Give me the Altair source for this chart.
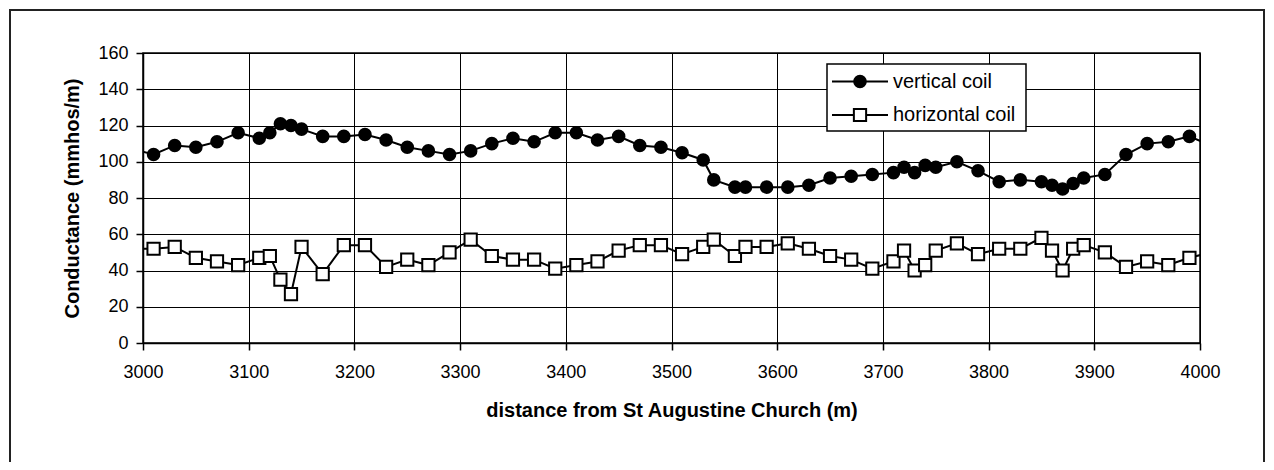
import altair as alt
import pandas as pd

# ---- data ----
distance = [2990, 3010, 3030, 3050, 3070, 3090, 3110, 3120, 3130, 3140, 3150, 3170, 3190,
            3210, 3230, 3250, 3270, 3290, 3310, 3330, 3350, 3370, 3390, 3410, 3430, 3450,
            3470, 3490, 3510, 3530, 3540, 3560, 3570, 3590, 3610, 3630, 3650, 3670, 3690,
            3710, 3720, 3730, 3740, 3750, 3770, 3790, 3810, 3830, 3850, 3860, 3870, 3880,
            3890, 3910, 3930, 3950, 3970, 3990, 4010]
vertical_coil = [107, 104, 109, 108, 111, 116, 113, 116, 121, 120, 118, 114, 114,
                 115, 112, 108, 106, 104, 106, 110, 113, 111, 116, 116, 112, 114,
                 109, 108, 105, 101, 90, 86, 86, 86, 86, 87, 91, 92, 93,
                 94, 97, 94, 98, 97, 100, 95, 89, 90, 89, 87, 85, 88,
                 91, 93, 104, 110, 111, 114, 109]
horizontal_coil = [52, 52, 53, 47, 45, 43, 47, 48, 35, 27, 53, 38, 54,
                   54, 42, 46, 43, 50, 57, 48, 46, 46, 41, 43, 45, 51,
                   54, 54, 49, 53, 57, 48, 53, 53, 55, 52, 48, 46, 41,
                   45, 51, 40, 43, 51, 55, 49, 52, 52, 58, 51, 40, 52,
                   54, 50, 42, 45, 43, 47, 50]
x_ticks = list(range(3000, 4001, 100))
y_ticks = list(range(0, 161, 20))
legend_labels = ["vertical coil", "horizontal coil"]

df_v = pd.DataFrame({"distance": distance, "value": vertical_coil})
df_h = pd.DataFrame({"distance": distance, "value": horizontal_coil})

FONT = "Liberation Sans"
W, H = 1057, 290

x_enc = alt.X("distance:Q",
              scale=alt.Scale(domain=[3000, 4000], nice=False, zero=False),
              axis=alt.Axis(values=x_ticks, format="d",
                            title="distance from St Augustine Church (m)",
                            titleX=W / 2, titleY=67, titleBaseline="middle",
                            labelAlign="center", labelFlush=False,
                            labelPadding=13, tickSize=7))
y_enc = alt.Y("value:Q",
              scale=alt.Scale(domain=[0, 160], nice=False),
              axis=alt.Axis(values=y_ticks, title="Conductance (mmhos/m)",
                            titleX=-71, titleY=H / 2, titleAngle=270,
                            titleAlign="center", titleBaseline="middle",
                            labelPadding=8, tickSize=7))

v_line = alt.Chart(df_v).mark_line(color="black", strokeWidth=2, clip=True).encode(x=x_enc, y=y_enc)
v_pts = alt.Chart(df_v).mark_point(shape="circle", filled=True, color="black",
                                   size=185, opacity=1, clip=True).encode(x=x_enc, y=y_enc)
h_line = alt.Chart(df_h).mark_line(color="black", strokeWidth=2, clip=True).encode(x=x_enc, y=y_enc)
h_pts = alt.Chart(df_h).mark_point(shape="square", filled=True, fill="white", stroke="black",
                                   strokeWidth=2, size=150, opacity=1, clip=True).encode(x=x_enc, y=y_enc)

one = pd.DataFrame({"k": [0]})
base = alt.Chart(one)

# outer chart frame (bottom edge falls below the visible page, as in the reference)
frame = base.mark_rect(fill="white", fillOpacity=0, stroke="#222", strokeWidth=2).encode(
    x=alt.value(-133), x2=alt.value(1121), y=alt.value(-43), y2=alt.value(430))

# legend
lg_box = base.mark_rect(fill="white", stroke="black", strokeWidth=1.5).encode(
    x=alt.value(684), x2=alt.value(883), y=alt.value(11), y2=alt.value(78))
lg_rows = []
for i, (lab, ry) in enumerate(zip(legend_labels, [28.5, 62])):
    lg_rows.append(base.mark_rule(color="black", strokeWidth=2).encode(
        x=alt.value(689), x2=alt.value(745), y=alt.value(ry)))
    if i == 0:
        lg_rows.append(base.mark_point(shape="circle", filled=True, color="black", size=185,
                                       opacity=1).encode(x=alt.value(717), y=alt.value(ry)))
    else:
        lg_rows.append(base.mark_point(shape="square", filled=True, fill="white", stroke="black",
                                       strokeWidth=2, size=150, opacity=1).encode(
            x=alt.value(717), y=alt.value(ry)))
    lg_rows.append(base.mark_text(text=lab, font=FONT, fontSize=20, align="left",
                                  baseline="middle", color="black").encode(
        x=alt.value(750), y=alt.value(ry)))

chart = alt.layer(frame, h_line, v_line, h_pts, v_pts, lg_box, *lg_rows).properties(
    width=W, height=H,
    autosize=alt.AutoSizeParams(type="none"),
    padding={"left": 135, "top": 45, "right": 66, "bottom": 119},
    background="white",
).configure_view(stroke="black", strokeWidth=1.5).configure_axis(
    grid=True, gridColor="black", gridWidth=1, gridOpacity=1,
    domainColor="black", domainWidth=1.5, tickColor="black", tickWidth=1.5,
    labelFont=FONT, labelFontSize=18, labelColor="black",
    titleFont=FONT, titleFontSize=20, titleFontWeight="bold", titleColor="black",
)

chart.save("out.html", embed_options={"renderer": "svg", "actions": False})
